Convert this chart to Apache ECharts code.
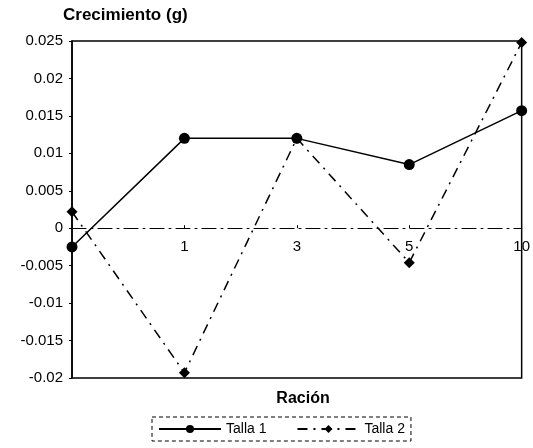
<!DOCTYPE html>
<html>
<head>
<meta charset="utf-8">
<script src="https://cdn.jsdelivr.net/npm/echarts@6/dist/echarts.min.js"></script>
<style>
  html, body { margin: 0; padding: 0; background: #fff; }
  #chart { width: 533px; height: 448px; }
</style>
</head>
<body>
<div id="chart"></div>
<script>
var chart = echarts.init(document.getElementById('chart'));

// ración categories (first one sits on the y axis, its label is not shown)
const racion = ['0', '1', '3', '5', '10'];
const talla1 = [-0.0025, 0.012, 0.012, 0.0085, 0.0157];
const talla2 = [0.0022, -0.0193, 0.012, -0.0046, 0.0248];

const font = 'Liberation Sans, Arial, sans-serif';
const yMin = -0.02, yMax = 0.025;
const gridTop = 41, gridBottom = 70;
// distance from the bottom of the plot up to the zero line
const zeroOffset = (448 - gridTop - gridBottom) * (0 - yMin) / (yMax - yMin);

var option = {
  animation: false,
  title: [
    {
      text: 'Crecimiento (g)',
      left: 58,
      top: 2,
      textStyle: { fontFamily: font, fontSize: 17, fontWeight: 'bold', color: '#000' }
    },
    {
      text: 'Ración',
      left: 298,
      textAlign: 'center',
      top: 386,
      textStyle: { fontFamily: font, fontSize: 16, fontWeight: 'bold', color: '#000' }
    }
  ],
  grid: {
    left: 72,
    right: 7,
    top: gridTop,
    bottom: gridBottom,
    show: true,
    borderColor: '#000',
    borderWidth: 1.5,
    backgroundColor: '#fff'
  },
  xAxis: {
    type: 'category',
    data: racion,
    boundaryGap: false,
    position: 'bottom',
    offset: -zeroOffset,
    axisLine: {
      onZero: false,
      lineStyle: { color: '#000', width: 1, type: [14, 5, 2, 5] }
    },
    axisTick: { show: true, inside: true, length: 3, lineStyle: { color: '#000' } },
    axisLabel: {
      color: '#000',
      fontFamily: font,
      fontSize: 15,
      margin: 11,
      formatter: (v, i) => i === 0 ? '' : v
    },
    splitLine: { show: false }
  },
  yAxis: {
    type: 'value',
    min: yMin,
    max: yMax,
    interval: 0.005,
    axisLine: { show: true, lineStyle: { color: '#000', width: 1.5 } },
    axisTick: { show: true, length: 3, lineStyle: { color: '#000' } },
    axisLabel: {
      color: '#000',
      fontFamily: font,
      fontSize: 15,
      margin: 9,
      formatter: (v) => String(parseFloat(v.toFixed(4)))
    },
    splitLine: { show: false }
  },
  legend: {
    top: 417,
    left: 152,
    itemWidth: 62,
    itemHeight: 10,
    itemGap: 30,
    padding: [5, 6, 5, 6],
    borderColor: '#000',
    borderWidth: 1,
    borderType: [4, 3],
    textStyle: { fontFamily: font, fontSize: 14, color: '#000' },
    data: ['Talla 1', 'Talla 2']
  },
  series: [
    {
      name: 'Talla 1',
      type: 'line',
      data: talla1,
      symbol: 'circle',
      symbolSize: 11,
      color: '#000',
      lineStyle: { color: '#000', width: 1.5 },
      itemStyle: { color: '#000' }
    },
    {
      name: 'Talla 2',
      type: 'line',
      data: talla2,
      symbol: 'diamond',
      symbolSize: 11,
      color: '#000',
      lineStyle: { color: '#000', width: 1.5, type: [10, 6, 2, 6] },
      itemStyle: { color: '#000' }
    }
  ]
};

chart.setOption(option);
</script>
</body>
</html>
